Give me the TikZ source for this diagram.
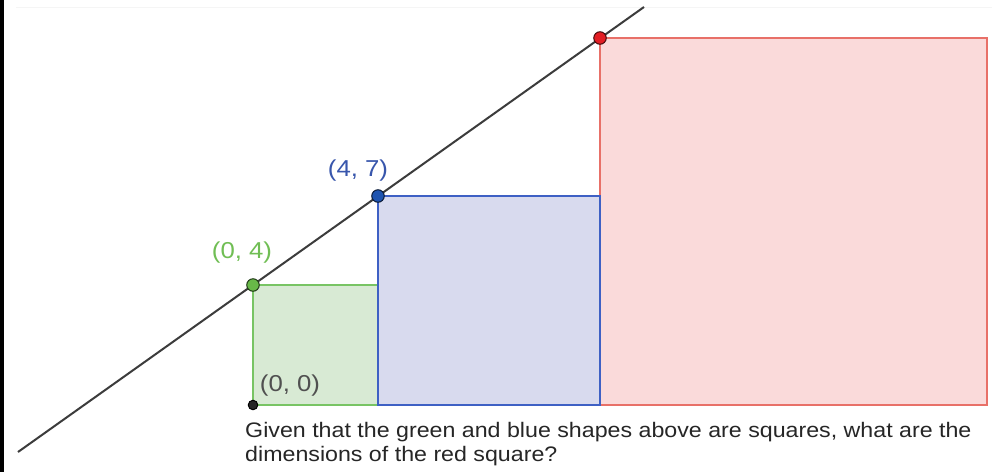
\documentclass[tikz,border=0pt]{standalone}
\usepackage{fontspec}
\setmainfont{Liberation Sans}
\begin{document}
\begin{tikzpicture}[x=1pt,y=-1pt,
  sqline/.style={line width=2pt},
  dotpt/.style={circle, inner sep=0pt, minimum size=12.5pt, line width=1pt},
  lbl/.style={font=\fontsize{23}{26}\selectfont, xscale=1.12, inner sep=0pt}]
\definecolor{gstroke}{RGB}{120,196,100}
\definecolor{gfill}{RGB}{216,234,212}
\definecolor{bstroke}{RGB}{62,96,196}
\definecolor{bfill}{RGB}{216,218,238}
\definecolor{rstroke}{RGB}{232,112,104}
\definecolor{rfill}{RGB}{250,218,218}
\definecolor{gdot}{RGB}{104,184,72}
\definecolor{bdot}{RGB}{30,84,176}
\definecolor{rdot}{RGB}{226,30,36}
\definecolor{glbl}{RGB}{112,190,84}
\definecolor{blbl}{RGB}{56,86,172}
\definecolor{klbl}{RGB}{80,80,80}
\definecolor{axline}{RGB}{60,60,60}
\useasboundingbox (0,0) rectangle (998,472);
\fill[white] (0,0) rectangle (998,472);
% left border and faint top rule
\fill[black] (0,0) rectangle (3.5,472);
\draw[line width=1pt, black!4] (16,7) -- (992,7);
% squares
\coordinate (O) at (253,405);
\coordinate (G) at (253,285);
\coordinate (B) at (378,196);
\coordinate (R) at (600,38);
\coordinate (Gc) at (378,405);
\coordinate (Bc) at (600,405);
\coordinate (Rc) at (987,405);
\filldraw[sqline, draw=gstroke, fill=gfill] (G) rectangle (Gc);
\filldraw[sqline, draw=rstroke, fill=rfill] (R) rectangle (Rc);
\filldraw[sqline, draw=bstroke, fill=bfill] (B) rectangle (Bc);
% line
\coordinate (L1) at (18,452);
\coordinate (L2) at (644,7);
\draw[line width=2pt, axline] (L1) -- (L2);
% points
\node[dotpt, fill=gdot, draw=black!70!gdot] (pG) at (G) {};
\node[dotpt, fill=bdot, draw=black!70!bdot] (pB) at (B) {};
\node[dotpt, fill=rdot, draw=black!70!rdot] (pR) at (R) {};
\node[dotpt, minimum size=9.5pt, fill=black!85, draw=black] (pO) at (O) {};
% labels
\node[lbl, text=glbl] (tG) at (242,253) {(0, 4)};
\node[lbl, text=blbl] (tB) at (358,171) {(4, 7)};
\node[lbl, text=klbl] (tO) at (290,386) {(0, 0)};
% caption
\node[anchor=north west, inner sep=0pt, align=left, xscale=1.105,
  font=\fontsize{21}{24}\selectfont, text=black!85] (cap) at (245,422)
  {Given that the green and blue shapes above are squares, what are the\\dimensions of the red square?};
\end{tikzpicture}
\end{document}
